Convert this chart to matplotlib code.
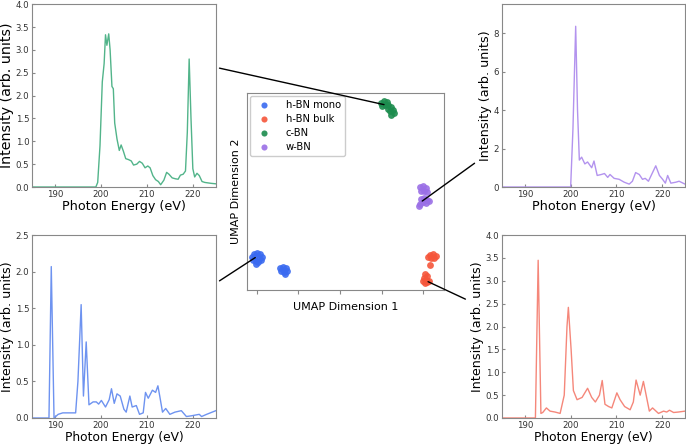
import matplotlib
matplotlib.use("Agg")
import matplotlib.pyplot as plt
from matplotlib.patches import ConnectionPatch

# ---- spectra ----
cbn_e = [185, 198.9, 199.3, 199.8, 200.3, 200.7, 201.0, 201.3, 201.7, 202.0, 202.4, 202.7,
         203.0, 203.5, 204.0, 204.4, 204.9, 205.4, 206.0, 206.6, 207.1, 207.8, 208.4, 209.0,
         209.6, 210.2, 210.7, 211.3, 211.9, 212.5, 213.0, 213.7, 214.3, 214.8, 215.5, 216.2,
         216.8, 217.3, 217.9, 218.4, 218.8, 219.2, 219.6, 220.0, 220.4, 220.9, 221.4, 222.0,
         222.6, 223.3, 224.0, 225]
cbn_i = [0, 0, 0.1, 0.9, 2.3, 2.7, 3.33, 3.1, 3.35, 3.0, 2.2, 2.15,
         1.4, 1.05, 0.8, 0.92, 0.78, 0.62, 0.6, 0.57, 0.48, 0.5, 0.56, 0.52,
         0.42, 0.46, 0.42, 0.25, 0.16, 0.12, 0.05, 0.15, 0.32, 0.28, 0.2, 0.18,
         0.17, 0.26, 0.28, 0.35, 1.2, 2.8, 1.5, 0.4, 0.22, 0.3, 0.25, 0.12,
         0.1, 0.09, 0.08, 0.07]

wbn_e = [185, 200.0, 200.5, 201.1, 201.5, 201.9, 202.4, 203.1, 203.7, 204.6, 205.1, 205.8,
         206.7, 207.4, 208.1, 208.6, 209.5, 210.6, 211.7, 212.8, 213.5, 214.2, 215.0, 215.7,
         216.3, 217.0, 217.9, 218.6, 219.4, 220.1, 220.7, 221.2, 221.9, 223.0, 223.7, 225]
wbn_i = [0, 0, 3.0, 8.35, 4.0, 1.4, 1.55, 1.2, 1.3, 1.0, 1.35, 0.6,
         0.65, 0.7, 0.5, 0.65, 0.45, 0.4, 0.25, 0.15, 0.3, 0.75, 0.65, 0.4,
         0.45, 0.3, 0.75, 1.1, 0.6, 0.4, 0.2, 0.6, 0.2, 0.25, 0.3, 0.15]

mono_e = [185, 188.7, 189.2, 189.8, 190.7, 191.7, 194.5, 195.0, 195.7, 196.2, 196.8, 197.4,
          198.3, 199.0, 199.5, 200.1, 201.0, 201.8, 202.3, 202.9, 203.5, 204.2, 205.0, 205.5,
          206.3, 206.8, 207.7, 208.4, 209.2, 209.7, 210.3, 211.2, 211.9, 212.4, 212.8, 213.4,
          214.1, 215.0, 216.1, 217.5, 218.6, 219.7, 221.4, 221.9, 223.0, 225]
mono_i = [0, 0, 2.07, 0, 0.05, 0.07, 0.07, 0.5, 1.55, 0.3, 1.04, 0.18,
          0.22, 0.22, 0.19, 0.24, 0.15, 0.25, 0.4, 0.2, 0.33, 0.3, 0.12, 0.08,
          0.3, 0.15, 0.17, 0.05, 0.07, 0.35, 0.27, 0.38, 0.35, 0.44, 0.3, 0.08,
          0.13, 0.05, 0.08, 0.1, 0.02, 0.03, 0.05, 0.02, 0.05, 0.1]

bulk_e = [185, 192.3, 192.9, 193.5, 193.9, 194.7, 195.5, 196.6, 197.7, 198.6, 199.2, 199.5,
          200.1, 200.6, 201.4, 202.5, 203.7, 204.6, 205.4, 206.3, 206.9, 207.5, 208.3, 209.0,
          210.1, 210.8, 211.8, 213.0, 213.7, 214.3, 215.2, 215.9, 216.5, 217.2, 217.9, 219.2,
          220.3, 221.0, 221.6, 222.5, 223.5, 225]
bulk_i = [0, 0, 3.45, 0.1, 0.12, 0.22, 0.15, 0.13, 0.1, 0.5, 2.0, 2.42,
          1.5, 0.6, 0.4, 0.45, 0.65, 0.45, 0.35, 0.5, 0.82, 0.3, 0.25, 0.22,
          0.55, 0.4, 0.25, 0.18, 0.35, 0.83, 0.5, 0.8, 0.5, 0.15, 0.22, 0.1,
          0.15, 0.13, 0.17, 0.12, 0.13, 0.15]

# ---- UMAP embedding ----
mono_x = [-0.60, -0.36, 0.0, 0.36, 0.60, 0.24, -0.12, -0.48, -0.12, 0.12, 0.48, -0.24,
          2.77, 3.13, 3.49, 3.61, 3.25, 2.89, 3.37]
mono_y = [3.98, 4.34, 4.46, 4.34, 3.98, 3.73, 3.49, 3.61, 3.13, 3.37, 3.61, 4.10,
          2.65, 2.77, 2.65, 2.29, 2.17, 2.29, 1.93]
bulk_x = [20.84, 21.20, 21.57, 21.33, 20.96, 20.60, 20.84,
          20.24, 20.48, 20.12, 20.36, 20.00, 20.48, 20.72, 20.24]
bulk_y = [4.22, 4.34, 4.10, 3.86, 3.86, 3.98, 3.01,
          1.93, 1.69, 1.45, 1.20, 1.08, 0.96, 1.08, 0.84]
cbn_x = [14.94, 15.30, 15.66, 15.42, 15.06, 15.78, 16.14, 16.39, 16.02, 16.51, 16.14, 15.78]
cbn_y = [22.53, 22.77, 22.65, 22.29, 22.17, 22.29, 22.05, 21.69, 21.57, 21.33, 21.08, 21.81]
wbn_x = [19.64, 20.00, 20.36, 20.12, 19.76, 20.48,
         19.76, 20.12, 20.48, 20.00, 19.64, 20.36, 20.72, 19.52]
wbn_y = [12.41, 12.53, 12.29, 11.93, 11.93, 11.81,
         10.96, 11.08, 10.84, 10.60, 10.36, 10.48, 10.72, 10.12]

fig = plt.figure(figsize=(6.86, 4.46), dpi=100)

def spectrum(rect, e, i, color, ylim, yticks, ylab_size=9.2, xlab_size=9.2):
    ax = fig.add_axes(rect)
    ax.plot(e, i, color=color, lw=1.0)
    ax.set_xlim(185, 225)
    ax.set_ylim(*ylim)
    ax.set_xticks([190, 200, 210, 220])
    ax.set_yticks(yticks)
    if max(yticks) < 5:
        ax.set_yticklabels(["%.1f" % t for t in yticks])
    ax.tick_params(labelsize=6.2, colors="#333333", length=2, direction="in",
                   pad=2, color="#888888")
    for s in ax.spines.values():
        s.set_color("#888888")
    ax.set_xlabel("Photon Energy (eV)", fontsize=xlab_size, labelpad=1)
    ax.set_ylabel("Intensity (arb. units)", fontsize=ylab_size, labelpad=1)
    return ax

tl = spectrum([0.0466, 0.5807, 0.268, 0.410], cbn_e, cbn_i, "#52b48a", (0, 4.0),
              [0, 0.5, 1.0, 1.5, 2.0, 2.5, 3.0, 3.5, 4.0], ylab_size=10.3)
tr = spectrum([0.7318, 0.5807, 0.2668, 0.410], wbn_e, wbn_i, "#b393ee", (0, 9.5),
              [0, 2, 4, 6, 8])
bl = spectrum([0.0466, 0.0628, 0.268, 0.410], mono_e, mono_i, "#6e93f0", (0, 2.5),
              [0, 0.5, 1.0, 1.5, 2.0, 2.5], xlab_size=8.8)
br = spectrum([0.7318, 0.0628, 0.2668, 0.410], bulk_e, bulk_i, "#f5877a", (0, 4.0),
              [0, 0.5, 1.0, 1.5, 2.0, 2.5, 3.0, 3.5, 4.0], xlab_size=8.8)

# central UMAP scatter
cx = fig.add_axes([0.360, 0.3498, 0.287, 0.4417])
cx.scatter(mono_x, mono_y, s=24, color="#3a6af0", label="h-BN mono", alpha=0.9, lw=0)
cx.scatter(bulk_x, bulk_y, s=24, color="#f5553a", label="h-BN bulk", alpha=0.9, lw=0)
cx.scatter(cbn_x, cbn_y, s=24, color="#1c8c4e", label="c-BN", alpha=0.9, lw=0)
cx.scatter(wbn_x, wbn_y, s=24, color="#9a6fe6", label="w-BN", alpha=0.9, lw=0)
cx.set_xlim(-1.2, 22.5)
cx.set_ylim(0, 23.7)
cx.set_xticks([0, 5, 10, 15, 20])
cx.set_xticklabels([])
cx.set_yticks([])
cx.tick_params(length=3, color="#888888")
for s in cx.spines.values():
    s.set_color("#888888")
cx.set_xlabel("UMAP Dimension 1", fontsize=8, labelpad=2)
cx.set_ylabel("UMAP Dimension 2", fontsize=8, labelpad=4)
cx.legend(loc="upper left", fontsize=7.2, markerscale=0.9, handletextpad=1.2,
          borderaxespad=0.3, labelspacing=0.4, framealpha=1)

# leader lines from spectra to clusters
links = [(tl, (1.02, 0.65), (15.3, 22.3)),
         (tr, (-0.15, 0.13), (19.9, 10.7)),
         (bl, (1.02, 0.75), (-0.2, 3.9)),
         (br, (-0.2, 0.65), (20.6, 1.0))]
for ax, pa, pb in links:
    con = ConnectionPatch(xyA=pa, coordsA="axes fraction", axesA=ax,
                          xyB=pb, coordsB="data", axesB=cx,
                          color="black", lw=1.0)
    con.set_zorder(10)
    fig.add_artist(con)

fig.savefig("out.png", dpi=100)
